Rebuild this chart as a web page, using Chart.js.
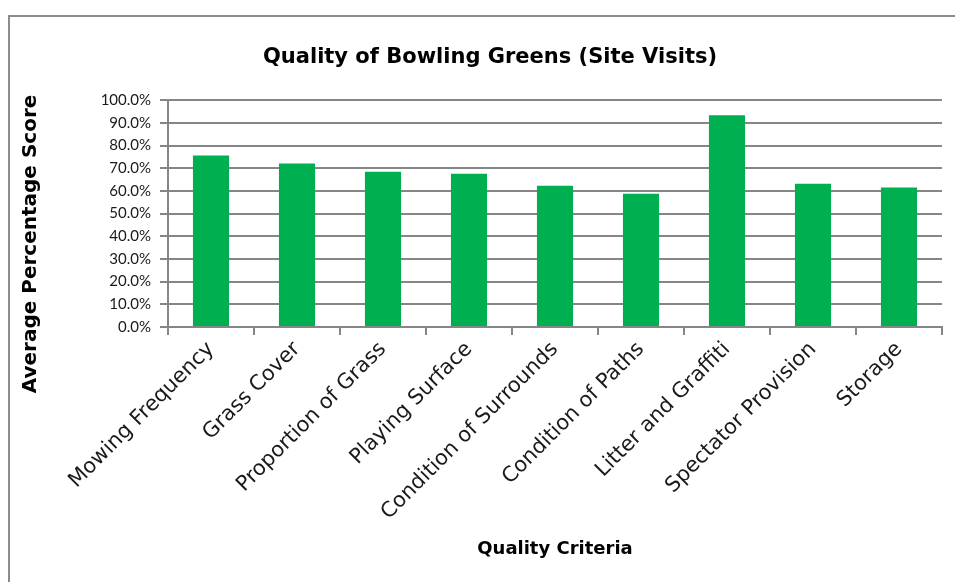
<!DOCTYPE html>
<html>
<head>
<meta charset="utf-8">
<script src="https://cdn.jsdelivr.net/npm/chart.js@4.4.0/dist/chart.umd.min.js"></script>
<style>
    html, body { margin: 0; padding: 0; background: #fff; overflow: hidden; width: 955px; height: 582px; }
    #frame {
        position: absolute; left: 8px; top: 15px;
        width: 964px; height: 580px;
        border: 2px solid #8c8c8c;
    }
    #holder { position: relative; width: 964px; height: 565px; }
</style>
</head>
<body>
<div id="frame">
    <div id="holder"><canvas id="greensChart"></canvas></div>
</div>
<script>
// Datos
const categories = [
    'Mowing Frequency', 'Grass Cover', 'Proportion of Grass', 'Playing Surface',
    'Condition of Surrounds', 'Condition of Paths', 'Litter and Graffiti',
    'Spectator Provision', 'Storage'
];
const scores = [75.6, 72.1, 68.5, 67.6, 62.3, 58.8, 93.4, 63.2, 61.5];
const yTicks = [0, 10, 20, 30, 40, 50, 60, 70, 80, 90, 100];

const FONT = '"DejaVu Sans", sans-serif';
const NUM_FONT = '"Liberation Sans Narrow", Lato, sans-serif';
const GRID = '#868686';

// Título vertical del eje Y (centrado como en Excel)
const yTitlePlugin = {
    id: 'yTitle',
    afterDraw(chart) {
        const ctx = chart.ctx;
        ctx.save();
        ctx.translate(21, 227);
        ctx.rotate(-Math.PI / 2);
        ctx.font = 'bold 20px ' + FONT;
        ctx.fillStyle = '#000';
        ctx.textAlign = 'center';
        ctx.textBaseline = 'middle';
        ctx.fillText('Average Percentage Score', 0, 0);
        ctx.restore();
    }
};

new Chart(document.getElementById('greensChart'), {
    type: 'bar',
    data: {
        labels: categories,
        datasets: [{
            label: 'Average Percentage Score',
            data: scores,
            backgroundColor: '#00B050',
            borderWidth: 0,
            barPercentage: 0.42,
            categoryPercentage: 1
        }]
    },
    options: {
        responsive: true,
        maintainAspectRatio: false,
        animation: false,
        layout: { padding: { left: 28, right: 32, top: 0, bottom: 0 } },
        plugins: {
            legend: { display: false },
            tooltip: { enabled: false },
            title: {
                display: true,
                text: 'Quality of Bowling Greens (Site Visits)',
                color: '#000',
                font: { family: FONT, size: 21, weight: 'bold' },
                padding: { top: 28, bottom: 30 }
            }
        },
        scales: {
            y: {
                min: 0,
                max: 100,
                afterBuildTicks: (scale) => {
                    scale.ticks = yTicks.map(v => ({ value: v }));
                },
                afterFit: (scale) => { scale.width = 130; },
                ticks: {
                    color: '#1a1a1a',
                    padding: 9,
                    font: { family: NUM_FONT, size: 15 },
                    callback: (value) => value.toFixed(1) + '%'
                },
                grid: { color: GRID, lineWidth: 2, tickLength: 8 },
                border: { color: GRID, width: 2 }
            },
            x: {
                afterFit: (scale) => { scale.height = 255; },
                ticks: {
                    color: '#1a1a1a',
                    minRotation: 45,
                    maxRotation: 45,
                    padding: 2,
                    autoSkip: false,
                    font: { family: FONT, size: 21 }
                },
                grid: {
                    offset: true,
                    drawOnChartArea: false,
                    color: GRID,
                    lineWidth: 2,
                    tickLength: 8
                },
                border: { color: GRID, width: 2 },
                title: {
                    display: true,
                    text: 'Quality Criteria',
                    color: '#000',
                    font: { family: FONT, size: 18, weight: 'bold' },
                    padding: { top: 0, bottom: 22 }
                }
            }
        }
    },
    plugins: [yTitlePlugin]
});
</script>
</body>
</html>
